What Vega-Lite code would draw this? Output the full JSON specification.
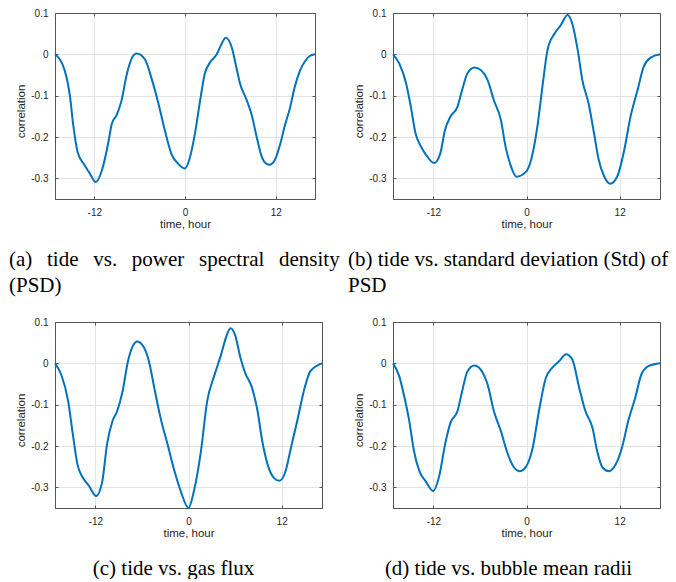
{
  "$schema": "https://vega.github.io/schema/vega-lite/v6.json",
  "padding": {"left": 8, "top": 7, "right": 0, "bottom": 0},
  "background": "white",
  "columns": 2,
  "spacing": {"row": 123, "column": 71},
  "bounds": "flush",
  "datasets": {
    "a": [
      {"t": -17.2, "r": 0}, {"t": -15.9, "r": -0.04}, {"t": -15.2, "r": -0.104}, {"t": -14.8, "r": -0.169}, {"t": -14.2, "r": -0.237}, {"t": -13.4, "r": -0.265}, {"t": -12.7, "r": -0.285}, {"t": -11.8, "r": -0.309}, {"t": -11.0, "r": -0.281}, {"t": -10.1, "r": -0.209}, {"t": -9.7, "r": -0.169}, {"t": -9.0, "r": -0.145}, {"t": -8.4, "r": -0.112}, {"t": -7.7, "r": -0.048}, {"t": -7.0, "r": -0.008}, {"t": -6.4, "r": 0.002}, {"t": -5.3, "r": -0.012}, {"t": -4.4, "r": -0.06}, {"t": -3.5, "r": -0.12}, {"t": -2.6, "r": -0.189}, {"t": -1.8, "r": -0.241}, {"t": -0.9, "r": -0.265}, {"t": 0, "r": -0.276}, {"t": 0.66, "r": -0.249}, {"t": 1.3, "r": -0.193}, {"t": 2.0, "r": -0.112}, {"t": 2.6, "r": -0.048}, {"t": 3.3, "r": -0.02}, {"t": 4.2, "r": 0.0}, {"t": 4.8, "r": 0.024}, {"t": 5.4, "r": 0.04}, {"t": 6.2, "r": 0.016}, {"t": 6.8, "r": -0.032}, {"t": 7.3, "r": -0.072}, {"t": 8.1, "r": -0.108}, {"t": 8.8, "r": -0.145}, {"t": 9.5, "r": -0.201}, {"t": 10.1, "r": -0.245}, {"t": 10.8, "r": -0.265}, {"t": 11.2, "r": -0.267}, {"t": 11.9, "r": -0.255}, {"t": 12.6, "r": -0.217}, {"t": 13.2, "r": -0.173}, {"t": 13.9, "r": -0.129}, {"t": 14.5, "r": -0.08}, {"t": 15.2, "r": -0.04}, {"t": 15.9, "r": -0.016}, {"t": 16.5, "r": -0.004}, {"t": 17.2, "r": 0}
    ],
    "b": [
      {"t": -17.2, "r": 0}, {"t": -16.4, "r": -0.022}, {"t": -15.5, "r": -0.071}, {"t": -14.9, "r": -0.127}, {"t": -14.3, "r": -0.191}, {"t": -13.6, "r": -0.223}, {"t": -12.8, "r": -0.247}, {"t": -11.9, "r": -0.263}, {"t": -11.1, "r": -0.239}, {"t": -10.5, "r": -0.183}, {"t": -9.8, "r": -0.151}, {"t": -8.9, "r": -0.127}, {"t": -8.3, "r": -0.087}, {"t": -7.6, "r": -0.046}, {"t": -6.7, "r": -0.032}, {"t": -5.9, "r": -0.038}, {"t": -5.0, "r": -0.063}, {"t": -4.2, "r": -0.111}, {"t": -3.3, "r": -0.159}, {"t": -2.7, "r": -0.223}, {"t": -2.0, "r": -0.271}, {"t": -1.3, "r": -0.296}, {"t": -0.1, "r": -0.285}, {"t": 0.6, "r": -0.255}, {"t": 1.4, "r": -0.175}, {"t": 2.1, "r": -0.071}, {"t": 2.7, "r": 0.01}, {"t": 3.6, "r": 0.05}, {"t": 4.4, "r": 0.07}, {"t": 5.3, "r": 0.095}, {"t": 5.9, "r": 0.074}, {"t": 6.6, "r": 0.01}, {"t": 7.2, "r": -0.063}, {"t": 8.0, "r": -0.119}, {"t": 8.7, "r": -0.191}, {"t": 9.3, "r": -0.255}, {"t": 10.0, "r": -0.295}, {"t": 10.8, "r": -0.313}, {"t": 11.7, "r": -0.295}, {"t": 12.6, "r": -0.231}, {"t": 13.4, "r": -0.151}, {"t": 14.3, "r": -0.087}, {"t": 15.1, "r": -0.03}, {"t": 16.0, "r": -0.008}, {"t": 17.2, "r": 0}
    ],
    "c": [
      {"t": -17.2, "r": 0}, {"t": -16.4, "r": -0.027}, {"t": -15.5, "r": -0.092}, {"t": -14.9, "r": -0.172}, {"t": -14.3, "r": -0.245}, {"t": -13.6, "r": -0.277}, {"t": -12.8, "r": -0.297}, {"t": -11.9, "r": -0.321}, {"t": -11.1, "r": -0.285}, {"t": -10.5, "r": -0.196}, {"t": -9.8, "r": -0.14}, {"t": -9.2, "r": -0.116}, {"t": -8.5, "r": -0.068}, {"t": -7.8, "r": 0.005}, {"t": -7.2, "r": 0.041}, {"t": -6.6, "r": 0.053}, {"t": -5.7, "r": 0.037}, {"t": -5.1, "r": 0.005}, {"t": -4.4, "r": -0.06}, {"t": -3.6, "r": -0.132}, {"t": -2.7, "r": -0.196}, {"t": -1.8, "r": -0.261}, {"t": -1.0, "r": -0.309}, {"t": 0.0, "r": -0.35}, {"t": 0.7, "r": -0.309}, {"t": 1.6, "r": -0.213}, {"t": 2.4, "r": -0.092}, {"t": 3.3, "r": -0.031}, {"t": 4.2, "r": 0.021}, {"t": 4.8, "r": 0.061}, {"t": 5.4, "r": 0.085}, {"t": 6.0, "r": 0.069}, {"t": 6.7, "r": 0.013}, {"t": 7.3, "r": -0.023}, {"t": 8.2, "r": -0.06}, {"t": 8.9, "r": -0.116}, {"t": 9.5, "r": -0.188}, {"t": 10.2, "r": -0.245}, {"t": 11.0, "r": -0.277}, {"t": 11.7, "r": -0.284}, {"t": 12.5, "r": -0.261}, {"t": 13.2, "r": -0.204}, {"t": 14.0, "r": -0.14}, {"t": 14.9, "r": -0.064}, {"t": 15.7, "r": -0.019}, {"t": 17.2, "r": 0}
    ],
    "d": [
      {"t": -17.2, "r": 0}, {"t": -16.4, "r": -0.031}, {"t": -15.8, "r": -0.076}, {"t": -15.1, "r": -0.14}, {"t": -14.5, "r": -0.212}, {"t": -13.8, "r": -0.261}, {"t": -13.0, "r": -0.285}, {"t": -12.0, "r": -0.309}, {"t": -11.3, "r": -0.277}, {"t": -10.4, "r": -0.188}, {"t": -9.8, "r": -0.144}, {"t": -8.9, "r": -0.116}, {"t": -8.3, "r": -0.068}, {"t": -7.6, "r": -0.019}, {"t": -6.7, "r": -0.005}, {"t": -5.9, "r": -0.015}, {"t": -5.0, "r": -0.052}, {"t": -4.2, "r": -0.116}, {"t": -3.3, "r": -0.164}, {"t": -2.4, "r": -0.22}, {"t": -1.6, "r": -0.252}, {"t": -0.9, "r": -0.261}, {"t": -0.1, "r": -0.251}, {"t": 0.8, "r": -0.204}, {"t": 1.6, "r": -0.116}, {"t": 2.5, "r": -0.035}, {"t": 3.3, "r": -0.011}, {"t": 4.2, "r": 0.005}, {"t": 5.1, "r": 0.022}, {"t": 5.9, "r": 0.009}, {"t": 6.8, "r": -0.06}, {"t": 7.6, "r": -0.116}, {"t": 8.5, "r": -0.156}, {"t": 9.1, "r": -0.212}, {"t": 9.8, "r": -0.252}, {"t": 10.6, "r": -0.261}, {"t": 11.5, "r": -0.244}, {"t": 12.3, "r": -0.204}, {"t": 13.1, "r": -0.14}, {"t": 14.0, "r": -0.084}, {"t": 14.8, "r": -0.027}, {"t": 15.7, "r": -0.007}, {"t": 17.2, "r": 0}
    ]
  },
  "concat": [
    {
      "width": 260, "height": 186,
      "data": {"name": "a"},
      "title": {"text": ["(a)\u00a0\u00a0\u2009tide\u00a0\u00a0\u2009vs.\u00a0\u00a0\u2009power\u00a0\u00a0\u2009spectral\u00a0\u00a0\u2009density", "(PSD)"], "orient": "bottom", "anchor": "start", "frame": "group", "dx": -46},
      "layer": [
        {"mark": {"type": "line", "color": "#0072BD", "strokeWidth": 2, "interpolate": "monotone"},
         "encoding": {
           "x": {"field": "t", "type": "quantitative", "scale": {"domain": [-17.2, 17.2], "nice": false, "zero": false}, "axis": {"values": [-12, 0, 12], "labelExpr": "'' + datum.value", "title": "time, hour"}},
           "y": {"field": "r", "type": "quantitative", "scale": {"domain": [-0.35, 0.1], "nice": false, "zero": false}, "axis": {"values": [-0.3, -0.2, -0.1, 0, 0.1], "labelExpr": "'' + round(datum.value*10)/10", "title": "correlation", "titleY": 98}}
         }},
        {"mark": {"type": "line", "strokeOpacity": 0},
         "encoding": {
           "x": {"field": "t", "type": "quantitative", "axis": {"orient": "top", "values": [-12, 0, 12], "labels": false, "grid": false, "title": null}},
           "y": {"field": "r", "type": "quantitative", "axis": {"orient": "right", "values": [-0.3, -0.2, -0.1, 0, 0.1], "labels": false, "grid": false, "title": null}}
         }}
      ],
      "resolve": {"axis": {"x": "independent", "y": "independent"}}
    },
    {
      "width": 267, "height": 186,
      "data": {"name": "b"},
      "title": {"text": ["(b) tide vs. standard deviation (Std) of", "PSD"], "orient": "bottom", "anchor": "start", "frame": "group", "dx": -45},
      "layer": [
        {"mark": {"type": "line", "color": "#0072BD", "strokeWidth": 2, "interpolate": "monotone"},
         "encoding": {
           "x": {"field": "t", "type": "quantitative", "scale": {"domain": [-17.2, 17.2], "nice": false, "zero": false}, "axis": {"values": [-12, 0, 12], "labelExpr": "'' + datum.value", "title": "time, hour"}},
           "y": {"field": "r", "type": "quantitative", "scale": {"domain": [-0.35, 0.1], "nice": false, "zero": false}, "axis": {"values": [-0.3, -0.2, -0.1, 0, 0.1], "labelExpr": "'' + round(datum.value*10)/10", "title": "correlation", "titleY": 98}}
         }},
        {"mark": {"type": "line", "strokeOpacity": 0},
         "encoding": {
           "x": {"field": "t", "type": "quantitative", "axis": {"orient": "top", "values": [-12, 0, 12], "labels": false, "grid": false, "title": null}},
           "y": {"field": "r", "type": "quantitative", "axis": {"orient": "right", "values": [-0.3, -0.2, -0.1, 0, 0.1], "labels": false, "grid": false, "title": null}}
         }}
      ],
      "resolve": {"axis": {"x": "independent", "y": "independent"}}
    },
    {
      "width": 267, "height": 186,
      "data": {"name": "c"},
      "title": {"text": "(c) tide vs. gas flux", "orient": "bottom", "anchor": "middle", "frame": "group", "dx": -15},
      "layer": [
        {"mark": {"type": "line", "color": "#0072BD", "strokeWidth": 2, "interpolate": "monotone"},
         "encoding": {
           "x": {"field": "t", "type": "quantitative", "scale": {"domain": [-17.2, 17.2], "nice": false, "zero": false}, "axis": {"values": [-12, 0, 12], "labelExpr": "'' + datum.value", "title": "time, hour"}},
           "y": {"field": "r", "type": "quantitative", "scale": {"domain": [-0.35, 0.1], "nice": false, "zero": false}, "axis": {"values": [-0.3, -0.2, -0.1, 0, 0.1], "labelExpr": "'' + round(datum.value*10)/10", "title": "correlation", "titleY": 98}}
         }},
        {"mark": {"type": "line", "strokeOpacity": 0},
         "encoding": {
           "x": {"field": "t", "type": "quantitative", "axis": {"orient": "top", "values": [-12, 0, 12], "labels": false, "grid": false, "title": null}},
           "y": {"field": "r", "type": "quantitative", "axis": {"orient": "right", "values": [-0.3, -0.2, -0.1, 0, 0.1], "labels": false, "grid": false, "title": null}}
         }}
      ],
      "resolve": {"axis": {"x": "independent", "y": "independent"}}
    },
    {
      "width": 267, "height": 186,
      "data": {"name": "d"},
      "title": {"text": "(d) tide vs. bubble mean radii", "orient": "bottom", "anchor": "middle", "frame": "group", "dx": -18},
      "layer": [
        {"mark": {"type": "line", "color": "#0072BD", "strokeWidth": 2, "interpolate": "monotone"},
         "encoding": {
           "x": {"field": "t", "type": "quantitative", "scale": {"domain": [-17.2, 17.2], "nice": false, "zero": false}, "axis": {"values": [-12, 0, 12], "labelExpr": "'' + datum.value", "title": "time, hour"}},
           "y": {"field": "r", "type": "quantitative", "scale": {"domain": [-0.35, 0.1], "nice": false, "zero": false}, "axis": {"values": [-0.3, -0.2, -0.1, 0, 0.1], "labelExpr": "'' + round(datum.value*10)/10", "title": "correlation", "titleY": 98}}
         }},
        {"mark": {"type": "line", "strokeOpacity": 0},
         "encoding": {
           "x": {"field": "t", "type": "quantitative", "axis": {"orient": "top", "values": [-12, 0, 12], "labels": false, "grid": false, "title": null}},
           "y": {"field": "r", "type": "quantitative", "axis": {"orient": "right", "values": [-0.3, -0.2, -0.1, 0, 0.1], "labels": false, "grid": false, "title": null}}
         }}
      ],
      "resolve": {"axis": {"x": "independent", "y": "independent"}}
    }
  ],
  "config": {
    "view": {"stroke": "#555555", "strokeWidth": 1},
    "axis": {"labelFont": "Liberation Sans", "labelFontSize": 10, "labelColor": "#262626", "titleFont": "Liberation Sans", "titleFontSize": 11.5, "titleFontWeight": "normal", "titleColor": "#262626", "gridColor": "#e3e3e3", "gridWidth": 1, "domainColor": "#555555", "tickColor": "#555555", "tickSize": -3, "tickWidth": 1},
    "axisX": {"labelPadding": 11, "titlePadding": 1},
    "axisY": {"labelPadding": 10, "titlePadding": 4},
    "title": {"font": "Liberation Serif", "fontSize": 21, "fontWeight": "normal", "color": "#000000", "offset": 19, "lineHeight": 26}
  }
}
